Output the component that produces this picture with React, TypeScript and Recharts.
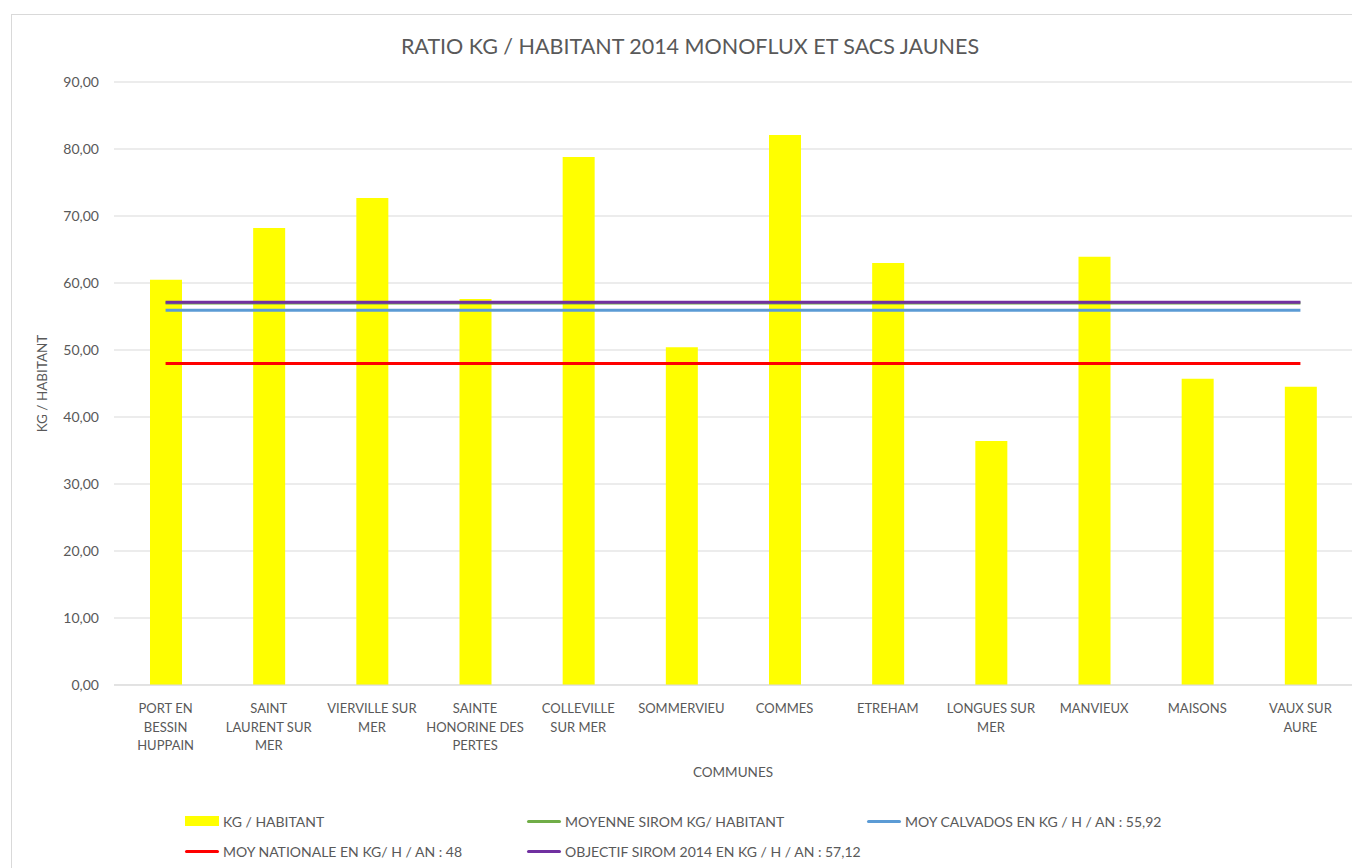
import React from 'react';
import { ComposedChart, Bar, Line, XAxis, YAxis, CartesianGrid } from 'recharts';

const categories = [
  'PORT EN\nBESSIN\nHUPPAIN',
  'SAINT\nLAURENT SUR\nMER',
  'VIERVILLE SUR\nMER',
  'SAINTE\nHONORINE DES\nPERTES',
  'COLLEVILLE\nSUR MER',
  'SOMMERVIEU',
  'COMMES',
  'ETREHAM',
  'LONGUES SUR\nMER',
  'MANVIEUX',
  'MAISONS',
  'VAUX SUR\nAURE',
];

const kgParHabitant = [60.5, 68.2, 72.7, 57.6, 78.8, 50.4, 82.1, 63.0, 36.4, 63.9, 45.7, 44.5];
const moyenneSirom = [57.0, 57.0, 57.0, 57.0, 57.0, 57.0, 57.0, 57.0, 57.0, 57.0, 57.0, 57.0];
const moyCalvados = [55.92, 55.92, 55.92, 55.92, 55.92, 55.92, 55.92, 55.92, 55.92, 55.92, 55.92, 55.92];
const moyNationale = [48, 48, 48, 48, 48, 48, 48, 48, 48, 48, 48, 48];
const objectifSirom = [57.12, 57.12, 57.12, 57.12, 57.12, 57.12, 57.12, 57.12, 57.12, 57.12, 57.12, 57.12];
const yTicks = [0, 10, 20, 30, 40, 50, 60, 70, 80, 90];

const FONT = 'Lato, Carlito, sans-serif';
const TXT = '#595959';

const data = categories.map((name, i) => ({
  name,
  kg: kgParHabitant[i],
  sirom: moyenneSirom[i],
  calvados: moyCalvados[i],
  nationale: moyNationale[i],
  objectif: objectifSirom[i],
}));

const legendItems = [
  { label: 'KG / HABITANT', color: '#ffff00', type: 'rect', col: 0, row: 0 },
  { label: 'MOYENNE SIROM KG/ HABITANT', color: '#70ad47', type: 'line', col: 1, row: 0 },
  { label: 'MOY CALVADOS EN KG / H / AN : 55,92', color: '#5b9bd5', type: 'line', col: 2, row: 0 },
  { label: 'MOY NATIONALE EN KG/ H / AN : 48', color: '#ff0000', type: 'line', col: 0, row: 1 },
  { label: 'OBJECTIF SIROM 2014 EN KG / H / AN : 57,12', color: '#7030a0', type: 'line', col: 1, row: 1 },
];
const legendCols = [173, 515, 855];
const legendRows = [806, 836];

const CategoryTick = (props: any) => {
  const { x, y, payload } = props;
  const lines = String(payload.value).split('\n');
  return (
    <g transform={`translate(${x},${y})`}>
      {lines.map((l, i) => (
        <text key={i} x={0} y={26 + i * 18.5} textAnchor="middle" fill={TXT} fontSize={13} fontFamily={FONT}>
          {l}
        </text>
      ))}
    </g>
  );
};

export default function App() {
  return (
    <div
      style={{
        position: 'relative',
        marginLeft: 3,
        marginTop: 6,
        width: 1348,
        height: 853,
        borderLeft: '1px solid #d9d9d9',
        borderTop: '1px solid #d9d9d9',
        background: '#fff',
        fontFamily: FONT,
        overflow: 'hidden',
      }}
    >
      <div
        style={{
          position: 'absolute',
          left: 0,
          width: 1356,
          top: 18,
          textAlign: 'center',
          fontSize: 21.5,
          color: TXT,
          lineHeight: '26px',
        }}
      >
        RATIO KG / HABITANT 2014 MONOFLUX ET SACS JAUNES
      </div>
      <ComposedChart
        width={1346}
        height={853}
        data={data}
        margin={{ top: 67, right: 6, left: 0, bottom: 83 }}
        barCategoryGap={0}
      >
        <CartesianGrid vertical={false} stroke="#d9d9d9" />
        <XAxis
          dataKey="name"
          interval={0}
          tickLine={false}
          tickSize={0}
          axisLine={{ stroke: '#d9d9d9' }}
          height={100}
          tick={<CategoryTick />}
          label={{ value: 'COMMUNES', position: 'insideBottom', offset: 8, fill: TXT, fontSize: 13.5, fontFamily: FONT }}
        />
        <YAxis
          domain={[0, 90]}
          ticks={yTicks}
          width={102}
          axisLine={false}
          tickLine={false}
          tickSize={0}
          tickMargin={15}
          tick={{ fill: TXT, fontSize: 14, fontFamily: FONT }}
          tickFormatter={(v: number) => v.toFixed(2).replace('.', ',')}
          label={{
            value: 'KG / HABITANT',
            angle: -90,
            position: 'insideLeft',
            offset: 30,
            fill: TXT,
            fontSize: 13.5,
            fontFamily: FONT,
            style: { textAnchor: 'middle' },
          }}
        />
        <Bar dataKey="kg" fill="#ffff00" barSize={32} isAnimationActive={false} />
        <Line dataKey="sirom" stroke="#70ad47" strokeWidth={3} dot={false} activeDot={false} isAnimationActive={false} />
        <Line dataKey="calvados" stroke="#5b9bd5" strokeWidth={3} dot={false} activeDot={false} isAnimationActive={false} />
        <Line dataKey="nationale" stroke="#ff0000" strokeWidth={3} dot={false} activeDot={false} isAnimationActive={false} />
        <Line dataKey="objectif" stroke="#7030a0" strokeWidth={3} dot={false} activeDot={false} isAnimationActive={false} />
      </ComposedChart>
      {legendItems.map((it, i) => (
        <div
          key={i}
          style={{
            position: 'absolute',
            left: legendCols[it.col],
            top: legendRows[it.row] - 10,
            height: 20,
            display: 'flex',
            alignItems: 'center',
            fontSize: 14,
            color: TXT,
            whiteSpace: 'nowrap',
          }}
        >
          <span
            style={{
              display: 'inline-block',
              width: 34,
              height: it.type === 'rect' ? 10 : 3,
              background: it.color,
              borderRadius: it.type === 'rect' ? 0 : 2,
              marginRight: 4,
            }}
          />
          {it.label}
        </div>
      ))}
    </div>
  );
}
